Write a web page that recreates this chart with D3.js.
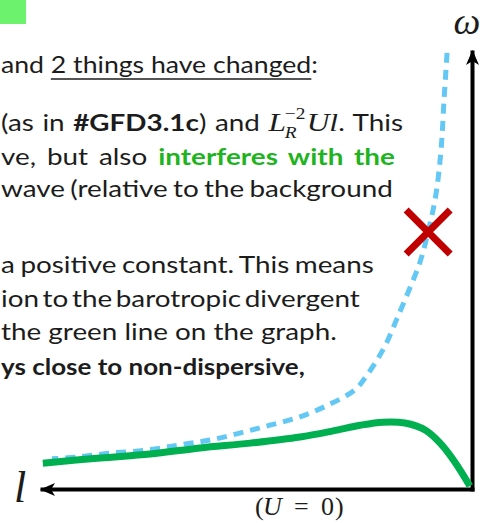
<!DOCTYPE html>
<html>
<head>
<meta charset="utf-8">
<script src="https://cdn.jsdelivr.net/npm/d3@7"></script>
<style>
  html, body { margin: 0; padding: 0; background: #ffffff; }
  svg { display: block; }
</style>
</head>
<body>
<svg id="chart" width="484" height="523"></svg>
<script>
// Sketch of a dispersion relation ω(l): wavenumber l grows to the left,
// frequency ω grows upward (arbitrary units, U = 0).

// dashed curve: barotropic divergent branch on its own
const dashedL     = [0.58, 0.65, 0.72, 0.84, 1.00, 1.21, 1.49, 1.74, 1.98, 2.21, 2.49, 2.72, 3.35, 4.00, 4.70, 5.40, 6.09, 6.79, 7.56, 8.42, 9.19, 9.77];
const dashedOmega = [9.98, 8.90, 7.76, 6.73, 5.97, 5.19, 4.49, 3.91, 3.36, 2.95, 2.54, 2.27, 1.92, 1.65, 1.46, 1.28, 1.12, 1.01, 0.89, 0.82, 0.73, 0.69];

// solid green curve: branch once the interference term is included
const greenL      = [9.98, 8.65, 7.49, 6.33, 5.16, 4.00, 3.23, 2.60, 2.07, 1.56, 1.09, 0.74, 0.40, 0.05];
const greenOmega  = [0.59, 0.71, 0.80, 0.94, 1.05, 1.19, 1.33, 1.46, 1.53, 1.51, 1.35, 1.05, 0.62, 0.07];

// the crossed-out point on the dashed branch
const crossL = 1.02;
const crossOmega = 5.88;

// axis and annotation labels
const omegaLabel = "ω";
const lLabel = "l";
const uLabelParts = ["(", "U", "=", "0", ")"];

// slide text, one entry per line; kinds: n normal, u underlined, b bold, g bold green, m formula
const textLines = [
  [["and ", "n"], ["2 things have changed", "u"], [":", "n"]],
  [["(as in ", "n"], ["#GFD3.1c", "b"], [") and ", "n"], ["", "m"], [". This", "n"]],
  [["ve, but also ", "n"], ["interferes with the", "g"]],
  [["wave (relative to the background", "n"]],
  [["a positive constant. This means", "n"]],
  [["ion to the barotropic divergent", "n"]],
  [["the green line on the graph.", "n"]],
  [["ys close to non-dispersive,", "b"]]
];
const lineBaselines  = [73, 131, 165, 197, 273, 307, 340, 375];
// right edge of every line; justified lines widen their word gaps, the others are fitted
const lineRightEdges = [318, 403, 395, 393, 374, 360, 337, 305];
const lineJustified  = [false, true, true, true, true, true, false, false];

const ink = "#1c1c1c";
const greenInk = "#1fb41f";
const curveGreen = "#00b050";
const dashBlue = "#63c8f4";
const crossRed = "#c00000";
const bodyFont = "Lato, 'Open Sans', sans-serif";
const mathFont = "'Liberation Serif', 'DejaVu Serif', serif";
const bodySize = 23;

const svg = d3.select("#chart");

// highlighted tab in the corner
svg.append("rect").attr("x", 0).attr("y", 0).attr("width", 26).attr("height", 24)
   .attr("fill", "#6cf26c");

// ---------- body text ----------
const textG = svg.append("g").attr("class", "body-text");

function addRun(g, str, kind) {
  const t = g.append("text")
    .attr("xml:space", "preserve")
    .attr("font-family", bodyFont)
    .attr("font-size", bodySize)
    .attr("font-weight", (kind === "b" || kind === "g") ? 700 : 400)
    .attr("fill", kind === "g" ? greenInk : ink)
    .text(str);
  const w = t.node().getComputedTextLength();
  const spaces = (str.match(/ /g) || []).length;
  return {
    width: w, spaces: spaces,
    place(x, ws) {
      t.attr("x", x).attr("word-spacing", ws);
      if (kind === "u") {
        g.append("line").attr("x1", x).attr("x2", x + w + ws * spaces)
          .attr("y1", 6).attr("y2", 6).attr("stroke", ink).attr("stroke-width", 1.5);
      }
    }
  };
}

// L_R^{-2} U l, set as one text element with shifted tspans
function addFormula(g) {
  const t = g.append("text").attr("font-family", mathFont).attr("font-size", 26).attr("fill", ink);
  const L = t.append("tspan").attr("font-style", "italic").text("L");
  const R = t.append("tspan").attr("font-style", "italic").attr("font-size", 16).attr("dy", 7).text("R");
  const p = t.append("tspan").attr("font-size", 16).text("−2");
  const Ul = t.append("tspan").attr("font-style", "italic").text("Ul");
  const wL = L.node().getComputedTextLength();
  const wR = R.node().getComputedTextLength();
  const wP = p.node().getComputedTextLength();
  const wU = Ul.node().getComputedTextLength();
  R.attr("dx", -1);
  p.attr("dx", -wR).attr("dy", -19);
  Ul.attr("dx", Math.max(0, wR - wP) + 1).attr("dy", 12);
  return {
    width: wL - 1 + Math.max(wR, wP) + 1 + wU, spaces: 0,
    place(x) { t.attr("x", x); }
  };
}

const left = 1;
const laidOut = textLines.map((runs, i) => {
  const g = textG.append("g");
  const pieces = runs.map(([s, k]) => k === "m" ? addFormula(g) : addRun(g, s, k));
  const width = d3.sum(pieces, d => d.width);
  const spaces = d3.sum(pieces, d => d.spaces);
  return { g, pieces, width, spaces, i };
});

// the slide text is stretched horizontally; the stretch comes from a plain, unjustified line
const baseScale = (lineRightEdges[6] - left) / laidOut[6].width;

laidOut.forEach(({ g, pieces, width, spaces, i }) => {
  const target = lineRightEdges[i] - left;
  let sx = baseScale, ws = 0;
  if (lineJustified[i] && spaces > 0) {
    ws = (target / sx - width) / spaces;
  } else {
    sx = target / width;
  }
  let x = 0;
  pieces.forEach(p => { p.place(x, ws); x += p.width + ws * p.spaces; });
  g.attr("transform", `translate(${left},${lineBaselines[i]}) scale(${sx},1)`);
});

// ---------- chart ----------
const x = d3.scaleLinear().domain([0, 10]).range([472, 42]);
const y = d3.scaleLinear().domain([0, 10]).range([489, 52]);

const axisStyle = g => g.select(".domain")
  .attr("stroke", "#000").attr("stroke-width", 4).attr("stroke-linecap", "square");

svg.append("g").attr("transform", `translate(0,${y(0)})`)
  .call(d3.axisBottom(x).tickValues([]).tickSizeOuter(0)).call(axisStyle);
svg.append("g").attr("transform", `translate(${x(0)},0)`)
  .call(d3.axisLeft(y).tickValues([]).tickSizeOuter(0)).call(axisStyle);

// arrowheads at the far ends of both axes
const arrow = (tipX, tipY, dir) => {
  const len = 15, half = 6.5, notch = 4;
  let pts;
  if (dir === "left") {
    pts = [[tipX, tipY], [tipX + len, tipY - half], [tipX + len - notch, tipY], [tipX + len, tipY + half]];
  } else {
    pts = [[tipX, tipY], [tipX + half, tipY + len], [tipX, tipY + len - notch], [tipX - half, tipY + len]];
  }
  svg.append("path").attr("d", "M" + pts.join("L") + "Z").attr("fill", "#000");
};
arrow(x(10) - 2, y(0) + 0.5, "left");
arrow(x(0) + 0.5, y(10) - 2, "up");

const line = d3.line()
  .x(d => x(d[0])).y(d => y(d[1]))
  .curve(d3.curveCatmullRom.alpha(0.5));

svg.append("path")
  .attr("d", line(d3.zip(dashedL, dashedOmega)))
  .attr("fill", "none").attr("stroke", dashBlue)
  .attr("stroke-width", 5).attr("stroke-dasharray", "10,7");

svg.append("path")
  .attr("d", line(d3.zip(greenL, greenOmega)))
  .attr("fill", "none").attr("stroke", curveGreen)
  .attr("stroke-width", 7).attr("stroke-linejoin", "round");

// red cross
const cx = x(crossL), cy = y(crossOmega), r = 22;
svg.append("path")
  .attr("d", `M${cx - r},${cy - r}L${cx + r},${cy + r}M${cx - r},${cy + r}L${cx + r},${cy - r}`)
  .attr("stroke", crossRed).attr("stroke-width", 7).attr("fill", "none");

// axis labels
svg.append("text").attr("x", 467).attr("y", 34).attr("text-anchor", "middle")
  .attr("font-family", mathFont).attr("font-style", "italic").attr("font-size", 38)
  .attr("fill", ink).text(omegaLabel);
svg.append("text").attr("x", 20).attr("y", 502).attr("text-anchor", "middle")
  .attr("font-family", mathFont).attr("font-style", "italic").attr("font-size", 44)
  .attr("fill", ink).text(lLabel);

// (U = 0) beneath the l axis
const uG = svg.append("g").attr("font-family", mathFont).attr("font-size", 26).attr("fill", ink);
const uX = [255, 263, 294, 321, 335];
uLabelParts.forEach((s, k) => {
  uG.append("text").attr("x", uX[k]).attr("y", 515)
    .attr("font-style", k === 1 ? "italic" : "normal").text(s);
});
</script>
</body>
</html>
